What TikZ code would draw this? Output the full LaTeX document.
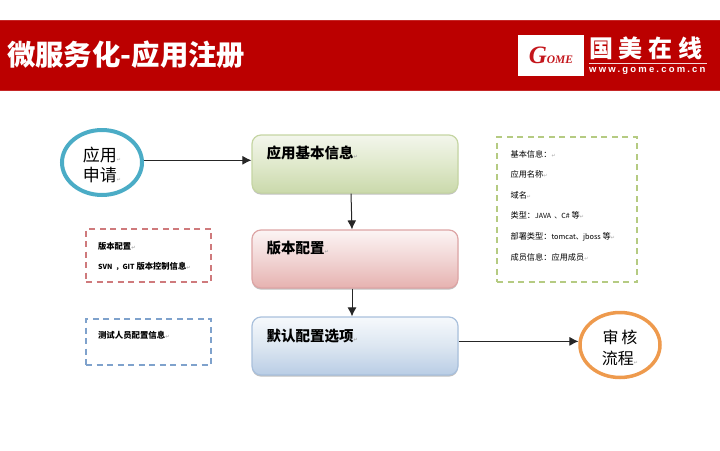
\documentclass[tikz,border=0pt]{standalone}
\usepackage{fontspec}
\setmainfont{Noto Sans CJK SC}
\newfontfamily\logofont[LetterSpace=24]{Noto Sans CJK SC}
\newfontfamily\webfont[LetterSpace=23]{Liberation Sans}
\newfontfamily\gomefont{Liberation Serif}
\newfontfamily\markfont{DejaVu Sans}
\usetikzlibrary{arrows.meta,positioning,shapes.geometric,shadows}
\definecolor{bandred}{HTML}{BB0000}
\definecolor{gomered}{HTML}{C4161C}
\definecolor{appteal}{HTML}{4BACC6}
\definecolor{revorange}{HTML}{EE9A4D}
\definecolor{dashgreen}{HTML}{B5CB82}
\definecolor{dashred}{HTML}{CF7A7C}
\definecolor{dashblue}{HTML}{7FA2CC}
\definecolor{greentop}{HTML}{F3F6EC}
\definecolor{greenmid}{HTML}{E0E9CC}
\definecolor{greenlow}{HTML}{CAD9AB}
\definecolor{greenline}{HTML}{C5D5A3}
\definecolor{redtop}{HTML}{FCF4F4}
\definecolor{redmid}{HTML}{F1D5D4}
\definecolor{redlow}{HTML}{E6B2B0}
\definecolor{redline}{HTML}{DDA5A5}
\definecolor{bluetop}{HTML}{F6F9FC}
\definecolor{bluemid}{HTML}{DCE6F1}
\definecolor{bluelow}{HTML}{B9CDE5}
\definecolor{blueline}{HTML}{A9C0DC}
\newcommand{\retmark}{{\markfont\fontsize{5}{5}\selectfont\textcolor{gray!70}{↵}}}
\tikzset{
  flowbox/.style={draw,rectangle,rounded corners=9pt,minimum width=206pt,minimum height=58pt,line width=1.2pt,
    drop shadow={shadow xshift=0pt,shadow yshift=-1.6pt,opacity=.55,fill=black!45}},
  boxtext/.style={font=\bfseries\fontsize{14.5}{18}\selectfont,inner sep=0pt,anchor=west},
  roundnode/.style={draw,ellipse,align=center,inner sep=0pt,font=\fontsize{17}{20}\selectfont},
  infobox/.style={draw,rectangle,dashed,dash pattern=on 6pt off 4.5pt,line width=1.3pt},
  infotext/.style={inner sep=0pt,anchor=north west,align=left},
  flowarrow/.style={-{Latex[length=9pt,width=9pt]},line width=1pt,black!85},
}
\begin{document}
\begin{tikzpicture}[x=1pt,y=-1pt]
  \useasboundingbox (0,0) rectangle (720,450);
  % title band
  \node[draw=bandred!85!white,fill=bandred,minimum width=722pt,minimum height=70pt,inner sep=0pt] (band) at (360,55) {};
  \node[text=white,font=\bfseries\fontsize{28.4}{30}\selectfont,anchor=west,inner sep=0pt] (title) at (7,55) {微服务化-应用注册};
  \node[fill=white,minimum width=66pt,minimum height=41pt,inner sep=0pt] (logobox) at (551,55.5) {};
  \node[text=gomered,inner sep=0pt] (gome) at (logobox) {\gomefont\bfseries\itshape\fontsize{25}{25}\selectfont G\fontsize{11.5}{11}\selectfont OME};
  \node[text=white,font=\logofont\bfseries\fontsize{24}{26}\selectfont,anchor=west,inner sep=0pt] (cnname) at (589,48.5) {国美在线};
  \coordinate (rulel) at (589,63);
  \coordinate (ruler) at (707,63);
  \draw[white!85!bandred,line width=.7pt] (rulel) -- (ruler);
  \node[text=white,font=\webfont\bfseries\fontsize{9.5}{10}\selectfont,anchor=west,inner sep=0pt] (web) at (589,71) {www.gome.com.cn};

  % flow
  \node[roundnode,draw=appteal,line width=4pt,minimum width=80pt,minimum height=65pt] (apply) at (102,162.5) {\rule{0pt}{20pt}应用\retmark\\申请\retmark};
  \node[flowbox,draw=greenline,top color=greentop,bottom color=greenlow,middle color=greenmid] (appbox) at (355,164) {};
  \node[flowbox,draw=redline,top color=redtop,bottom color=redlow,middle color=redmid] (verbox) at (355,259) {};
  \node[flowbox,draw=blueline,top color=bluetop,bottom color=bluelow,middle color=bluemid] (defbox) at (355,346) {};
  \node[boxtext,below right=19pt and 15pt of appbox.north west,anchor=west] (apptext) {应用基本信息\retmark};
  \node[boxtext,below right=19pt and 15pt of verbox.north west,anchor=west] (vertext) {版本配置\retmark};
  \node[boxtext,below right=20pt and 15pt of defbox.north west,anchor=west] (deftext) {默认配置选项\retmark};
  \node[roundnode,draw=revorange,line width=3.5pt,minimum width=80pt,minimum height=65pt,font=\fontsize{16}{20.5}\selectfont] (review) at (620,345) {\rule{0pt}{19pt}审\,核\\流程\retmark};

  \draw[flowarrow] (apply.3) -- (apply.3 -| appbox.west);
  \draw[flowarrow] ([xshift=-4pt]appbox.south) -- ([xshift=-3pt]verbox.north);
  \draw[flowarrow] ([xshift=-3pt]verbox.south) -- ([xshift=-3pt]defbox.north);
  \draw[flowarrow] (review.175 -| defbox.east) -- (review.175);

  % dashed notes
  \node[infobox,draw=dashgreen,minimum width=140pt,minimum height=145pt] (basicinfo) at (567,209.5) {};
  \node[infotext,below right=13.5pt and 14pt of basicinfo.north west,anchor=north west,font=\fontsize{8.2}{20.6}\selectfont] (basictext) {基本信息：\retmark\\应用名称\retmark\\域名\retmark\\类型：{\fontsize{7}{20.6}\selectfont JAVA\ \ 、C\#} 等\retmark\\部署类型：{\fontsize{7.3}{20.6}\selectfont tomcat、jboss} 等\retmark\\成员信息：应用成员\retmark};
  \node[infobox,draw=dashred,minimum width=125pt,minimum height=53pt] (vernote) at (148.5,255.5) {};
  \node[infotext,below right=13.5pt and 12.5pt of vernote.north west,anchor=north west,font=\bfseries\fontsize{8.3}{20}\selectfont] (vernotetext) {版本配置\retmark\\{\fontsize{7}{20}\selectfont SVN\ \ ，GIT} 版本控制信息\retmark};
  \node[infobox,draw=dashblue,minimum width=125pt,minimum height=46pt] (testnote) at (148.5,342) {};
  \node[infotext,below right=12.5pt and 12.5pt of testnote.north west,anchor=north west,font=\bfseries\fontsize{8.4}{12}\selectfont] (testnotetext) {测试人员配置信息\retmark};
\end{tikzpicture}
\end{document}
